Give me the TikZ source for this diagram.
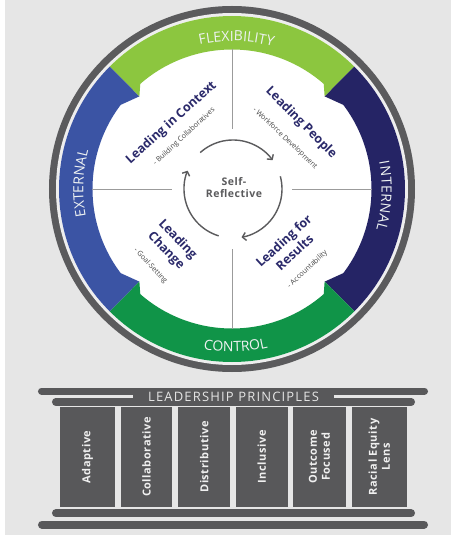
\documentclass[tikz,border=0pt]{standalone}
\usepackage{fontspec}
\setmainfont{Open Sans}
\newfontfamily\spacedfont[LetterSpace=5]{Open Sans}
\newfontfamily\widefont[LetterSpace=9]{Open Sans}
\usetikzlibrary{arrows.meta,decorations.text}

\definecolor{bggray}{HTML}{E6E6E6}
\definecolor{ringgray}{HTML}{5B5B5D}
\definecolor{gapgray}{HTML}{EEEEEE}
\definecolor{flexgreen}{HTML}{8CC63F}
\definecolor{ctrlgreen}{HTML}{109448}
\definecolor{extblue}{HTML}{3B54A4}
\definecolor{intnavy}{HTML}{252465}
\definecolor{titlenavy}{HTML}{2B2A6B}
\definecolor{pillargray}{HTML}{58585A}
\definecolor{divider}{HTML}{9B9B9B}
\definecolor{bandtext}{HTML}{EEF2F2}

\newcommand\bandfont{\fontsize{14}{14}\selectfont}

\begin{document}
\begin{tikzpicture}[x=1pt, y=1pt,
  quadtitle/.style={font=\fontsize{12.5}{16}\selectfont\bfseries, text=titlenavy, align=center, inner sep=0pt},
  quadsub/.style={font=\fontsize{7.2}{9}\selectfont, text=black!72, inner sep=0pt},
  bandlabel/.style={decorate, decoration={text along path, text={|\bandfont|#1}, text align={fit to path}, text color=bandtext}},
  cyclearrow/.style={draw=ringgray, line width=1.4pt, -{Straight Barb[length=3.5pt, width=8pt]}},
  pillarbox/.style={fill=pillargray, rotate=90, minimum width=99.4, minimum height=#1, inner sep=0pt, align=center,
    text=white!94!black, font=\spacedfont\fontsize{11}{13}\selectfont\bfseries},
  barline/.style={draw=pillargray, line cap=round}]

  \def\rband{173}
  \def\rin{139.5}

  \useasboundingbox (-232,-346) rectangle (219,189);
  \fill[bggray] (-232,-346) rectangle (219,189);
  \fill[white] (-232,-346) rectangle (-227,189);

  % rings
  \fill[ringgray] (0,0) circle (183);
  \fill[gapgray] (0,0) circle (176);
  \fill[white] (0,0) circle (\rband);

  % coloured bands
  \foreach \ang/\col in {90/flexgreen, 0/intnavy, 270/ctrlgreen, 180/extblue} {
    \fill[\col] (\ang+45:\rband) arc[start angle=\ang+45, end angle=\ang-45, radius=\rband]
      -- (\ang-45:\rin) arc[start angle=\ang-45, end angle=\ang+45, radius=\rin] -- cycle;
  }
  % small teeth where the bands meet
  \foreach \p/\gc/\s/\oc in {45/flexgreen/1/intnavy, 135/flexgreen/-1/extblue,
      225/ctrlgreen/1/extblue, 315/ctrlgreen/-1/intnavy} {
    \pgfmathsetmacro\pout{\p-9*\s}
    \pgfmathsetmacro\pgreen{\p+4.5*\s}
    \fill[\oc] (\p:131) -- (\p:141) -- (\pout:141) -- cycle;
    \fill[\gc] (\p:131) -- (\p:141) -- (\pgreen:141) -- cycle;
  }

  \foreach \ang in {0,90,180,270} {
    \draw[divider, line width=0.8pt] (\ang:60) -- (\ang:\rin);
  }

  \path[bandlabel=FLEXIBILITY] (102.6:148) arc[start angle=102.6, end angle=74, radius=148];
  \path[bandlabel=EXTERNAL] (190.7:148.7) arc[start angle=190.7, end angle=164.9, radius=148.7];
  \path[bandlabel=INTERNAL] (10.4:149.7) arc[start angle=10.4, end angle=-15.6, radius=149.7];
  \path[bandlabel=CONTROL] (-100.15:162.7) arc[start angle=-100.15, end angle=-77.25, radius=162.7];

  % cycle in the middle
  \coordinate (hub) at (1,0);
  \draw[cyclearrow] (hub) ++(132:49) arc[start angle=132, end angle=36, radius=49];
  \draw[cyclearrow] (hub) ++(15:49) arc[start angle=15, end angle=-80, radius=49];
  \draw[cyclearrow] (hub) ++(253:49) arc[start angle=253, end angle=158, radius=49];

  \node[align=center, inner sep=0pt, text=ringgray, font=\spacedfont\fontsize{10.5}{11.5}\selectfont\bfseries]
    (selfref) at (2,1.5) {Self-\\Reflective};

  \node[quadtitle, rotate=42] (context) at (-60.5,66) {Leading in Context};
  \node[quadsub, rotate=42.7] (contextsub) at (-47.8,52.3) {- Building Collaboratives};
  \node[quadtitle, rotate=-45] (people) at (69,66) {Leading People};
  \node[quadsub, rotate=-43.5] (peoplesub) at (53,50.7) {- Workforce Development};
  \node[quadtitle, rotate=42.6] (results) at (57,-57.5) {Leading for\\Results};
  \node[quadsub, rotate=42.8] (resultssub) at (75.5,-80.2) {- Accountability};
  \node[quadtitle, rotate=-46] (change) at (-60.3,-56.3) {Leading\\Change};
  \node[quadsub, rotate=-47] (changesub) at (-81.5,-77) {- Goal-Setting};

  % principles block
  \draw[barline, line width=7] (-190.5,-202) -- (192.5,-202);
  \draw[barline, line width=7.5] (-176.25,-212.8) -- (179.25,-212.8);
  \fill[pillargray] (-99,-202) rectangle (102,-212.8);
  \node[inner sep=0pt, text=white!90!black, font=\widefont\fontsize{13}{13}\selectfont] (principles) at (1.5,-208) {LEADERSHIP PRINCIPLES};

  \foreach \i/\x/\w/\txt in {1/-144.5/55/Adaptive, 2/-85.5/51.6/Collaborative, 3/-27.8/51.7/Distributive,
      4/29.8/51.7/Inclusive, 5/87.5/52.4/{Outcome\\Focused}, 6/147.2/55/{Racial Equity\\Lens}} {
    \node[pillarbox=\w] (pillar\i) at (\x,-268) {\txt};
  }

  \draw[barline, line width=7.7] (-176.15,-324.2) -- (179.15,-324.2);
  \draw[barline, line width=8] (-190,-335.5) -- (192,-335.5);

\end{tikzpicture}
\end{document}
